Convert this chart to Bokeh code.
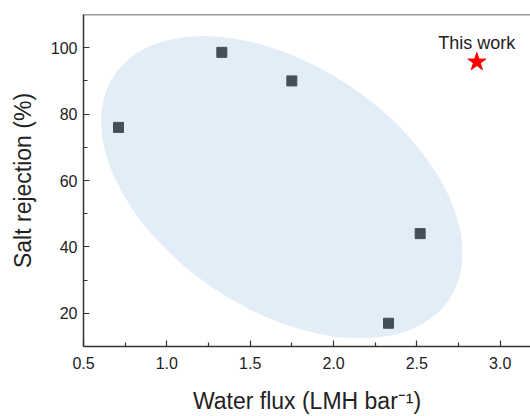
import math
from bokeh.plotting import figure
from bokeh.models import Range1d, FixedTicker, Span, PrintfTickFormatter
from bokeh.core.properties import value
from bokeh.embed import file_html
from bokeh.resources import INLINE

# Data
flux = [0.71, 1.33, 1.75, 2.52, 2.33]
rejection = [76, 98.6, 90, 44, 17]
this_flux = [2.86]
this_rej = [95.7]
this_label = ["This work"]
this_label_y = [101.3]

# shaded region (centre in data units, axes in screen px)
ell_x = [1.69]
ell_y = [58.0]
ell_w = [403]
ell_h = [244]
ell_angle_deg = -33.8

x_ticks = [0.5, 1.0, 1.5, 2.0, 2.5, 3.0]
x_minor = [0.75, 1.25, 1.75, 2.25, 2.75]
y_ticks = [20, 40, 60, 80, 100]
y_minor = [30, 50, 70, 90]
x_lo, x_hi = 0.5, 3.182
y_lo, y_hi = 10, 110

FONT = "Liberation Sans"
AXC = "#333333"

p = figure(width=530, height=416, output_backend="svg", toolbar_location=None,
           x_range=Range1d(x_lo, x_hi), y_range=Range1d(y_lo, y_hi),
           min_border_left=83, min_border_top=14, min_border_bottom=66,
           min_border_right=0, x_axis_label="Water flux (LMH bar\u207b\u00b9)",
           y_axis_label="Salt rejection (%)")
p.outline_line_color = None
p.grid.visible = False
p.background_fill_color = "white"

p.ellipse(x=ell_x, y=ell_y, width=ell_w, height=ell_h, width_units="screen",
          height_units="screen", angle=math.radians(ell_angle_deg),
          fill_color="#e2edf8", line_color=None)

p.scatter(flux, rejection, marker="square", size=10, fill_color="#444f5a",
          line_color="#444f5a")
p.scatter(this_flux, this_rej, marker="star", size=19, fill_color="#ff0000",
          line_color="#ff0000")
p.text(x=this_flux, y=this_label_y, text=this_label, text_align="center",
       text_baseline="alphabetic", text_font=value(FONT),
       text_font_size="18px", text_color="#222222")

for ax in (p.xaxis[0], p.yaxis[0]):
    ax.axis_line_color = AXC
    ax.axis_line_width = 1.5
    ax.major_tick_line_color = AXC
    ax.minor_tick_line_color = AXC
    ax.major_tick_line_width = 1.2
    ax.minor_tick_line_width = 1.2
    ax.major_tick_in = 6
    ax.major_tick_out = 0
    ax.minor_tick_in = 4
    ax.minor_tick_out = 0
    ax.major_label_text_font = FONT
    ax.major_label_text_font_size = "16px"
    ax.major_label_text_color = "#222222"
    ax.axis_label_text_font = FONT
    ax.axis_label_text_font_size = "23px"
    ax.axis_label_text_font_style = "normal"
    ax.axis_label_text_color = "#222222"

p.xaxis[0].ticker = FixedTicker(ticks=x_ticks, minor_ticks=x_minor)
p.xaxis[0].formatter = PrintfTickFormatter(format="%.1f")
p.yaxis[0].ticker = FixedTicker(ticks=y_ticks, minor_ticks=y_minor)
p.xaxis[0].major_label_standoff = 10
p.xaxis[0].axis_label_standoff = 16
p.yaxis[0].major_label_standoff = 6
p.yaxis[0].axis_label_standoff = 12

p.add_layout(Span(location=y_hi, dimension="width", line_color=AXC, line_width=1.5))

open("out.html", "w").write(file_html(p, INLINE))
